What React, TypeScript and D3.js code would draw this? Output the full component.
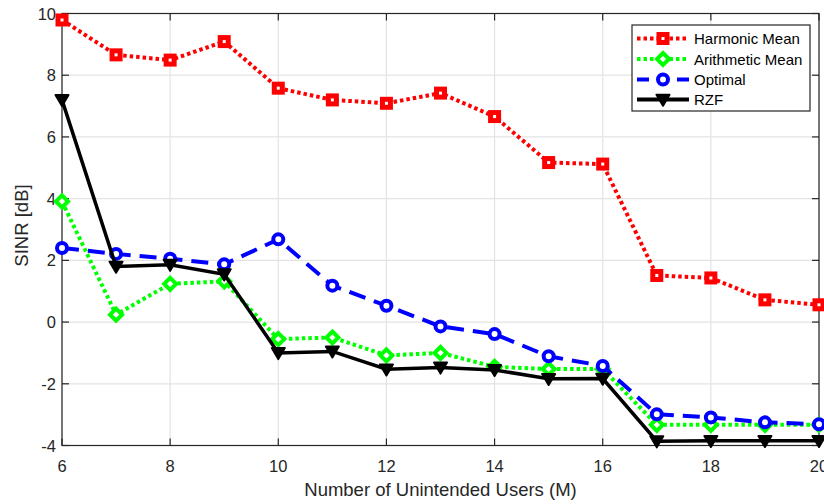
import * as d3 from 'd3'

const users = [6, 7, 8, 9, 10, 11, 12, 13, 14, 15, 16, 17, 18, 19, 20]
const harmonic = [9.79, 8.66, 8.49, 9.09, 7.58, 7.2, 7.09, 7.42, 6.66, 5.17, 5.12, 1.51, 1.43, 0.72, 0.56]
const arithmetic = [3.91, 0.24, 1.24, 1.32, -0.55, -0.5, -1.08, -1.0, -1.45, -1.52, -1.52, -3.33, -3.33, -3.33, -3.33]
const optimal = [2.4, 2.21, 2.05, 1.87, 2.68, 1.18, 0.53, -0.14, -0.39, -1.11, -1.42, -2.99, -3.09, -3.25, -3.31]
const rzf = [7.2, 1.8, 1.86, 1.55, -1.0, -0.95, -1.53, -1.47, -1.55, -1.84, -1.83, -3.86, -3.85, -3.85, -3.85]
const xTicks = [6, 8, 10, 12, 14, 16, 18, 20]
const yTicks = [-4, -2, 0, 2, 4, 6, 8, 10]

type Marker = 'square' | 'diamond' | 'circle' | 'triangle'
type Series = { name: string; values: number[]; color: string; dash: string; marker: Marker }

const series: Series[] = [
  { name: 'Harmonic Mean', values: harmonic, color: '#ff0000', dash: '3.5,3', marker: 'square' },
  { name: 'Arithmetic Mean', values: arithmetic, color: '#00ff00', dash: '3.5,3', marker: 'diamond' },
  { name: 'Optimal', values: optimal, color: '#0000ff', dash: '17,9', marker: 'circle' },
  { name: 'RZF', values: rzf, color: '#000000', dash: '', marker: 'triangle' },
]

const W = 824
const H = 504
const margin = { left: 62, top: 13.5, right: 5, bottom: 58.5 }
const font = 'Liberation Sans, Arial, Helvetica, sans-serif'

function MarkerShape({ type, x, y, color }: { type: Marker; x: number; y: number; color: string }) {
  if (type === 'square') {
    return <rect x={x - 4} y={y - 4} width={8} height={8} fill="#fff" stroke={color} strokeWidth={5} />
  }
  if (type === 'diamond') {
    const r = 6
    return <path d={`M${x},${y - r}L${x + r},${y}L${x},${y + r}L${x - r},${y}Z`} fill="#fff" stroke={color} strokeWidth={4} strokeLinejoin="miter" />
  }
  if (type === 'circle') {
    return <circle cx={x} cy={y} r={5} fill="#fff" stroke={color} strokeWidth={4} />
  }
  const s = 6.5
  return <path d={`M${x - s},${y - s * 0.75}L${x + s},${y - s * 0.75}L${x},${y + s * 0.95}Z`} fill={color} stroke={color} strokeWidth={2} strokeLinejoin="round" />
}

export default function App() {
  const innerW = W - margin.left - margin.right
  const innerH = H - margin.top - margin.bottom
  const x = d3.scaleLinear().domain([6, 20]).range([margin.left, margin.left + innerW])
  const y = d3.scaleLinear().domain([-4, 10]).range([margin.top + innerH, margin.top])
  const x0 = x(6)
  const x1 = x(20)
  const y0 = y(-4)
  const y1 = y(10)

  const line = d3.line<number>().x((_, i) => x(users[i])).y(d => y(d))

  const legend = { x: 632, y: 25, w: 178, h: 86 }
  const rowY = [38.5, 59, 79.5, 99.5]

  return (
    <div style={{ position: 'absolute', left: 0, top: 0 }}>
      <svg width={W} height={H} viewBox={`0 0 ${W} ${H}`} style={{ display: 'block', background: '#fff' }}>
        {/* grid */}
        {xTicks.map(t => (
          <line key={`gx-${t}`} x1={x(t)} x2={x(t)} y1={y0} y2={y1} stroke="#e3e3e3" strokeWidth={1.2} />
        ))}
        {yTicks.map(t => (
          <line key={`gy-${t}`} x1={x0} x2={x1} y1={y(t)} y2={y(t)} stroke="#e3e3e3" strokeWidth={1.2} />
        ))}

        {/* box + ticks */}
        <rect x={x0} y={y1} width={x1 - x0} height={y0 - y1} fill="none" stroke="#262626" strokeWidth={1.2} />
        {xTicks.map(t => (
          <g key={`tx-${t}`} stroke="#262626" strokeWidth={1.2}>
            <line x1={x(t)} x2={x(t)} y1={y0} y2={y0 - 7} />
            <line x1={x(t)} x2={x(t)} y1={y1} y2={y1 + 7} />
          </g>
        ))}
        {yTicks.map(t => (
          <g key={`ty-${t}`} stroke="#262626" strokeWidth={1.2}>
            <line x1={x0} x2={x0 + 7} y1={y(t)} y2={y(t)} />
            <line x1={x1} x2={x1 - 7} y1={y(t)} y2={y(t)} />
          </g>
        ))}

        {/* tick labels */}
        {xTicks.map(t => (
          <text key={`lx-${t}`} x={x(t)} y={y0 + 26.5} textAnchor="middle" fontFamily={font} fontSize={16.5} fill="#262626">
            {t}
          </text>
        ))}
        {yTicks.map(t => (
          <text key={`ly-${t}`} x={x0 - 6} y={y(t) + 6} textAnchor="end" fontFamily={font} fontSize={16.5} fill="#262626">
            {t}
          </text>
        ))}

        <text x={(x0 + x1) / 2} y={H - 8} textAnchor="middle" fontFamily={font} fontSize={18.5} fill="#262626">
          Number of Unintended Users (M)
        </text>
        <text transform={`translate(28, ${(y0 + y1) / 2 - 4}) rotate(-90)`} textAnchor="middle" fontFamily={font} fontSize={18.5} fill="#262626">
          SINR [dB]
        </text>

        {/* series */}
        {series.map(s => (
          <g key={s.name}>
            <path d={line(s.values) ?? ''} fill="none" stroke={s.color} strokeWidth={s.marker === 'triangle' ? 3.5 : 4} strokeDasharray={s.dash || undefined} />
            {s.values.map((v, i) => (
              <MarkerShape key={i} type={s.marker} x={x(users[i])} y={y(v)} color={s.color} />
            ))}
          </g>
        ))}

        {/* legend */}
        <rect x={legend.x} y={legend.y} width={legend.w} height={legend.h} fill="#fff" stroke="#262626" strokeWidth={1.2} />
        {series.map((s, i) => (
          <g key={`lg-${s.name}`}>
            <line x1={637} x2={689} y1={rowY[i]} y2={rowY[i]} stroke={s.color} strokeWidth={4} strokeDasharray={s.marker === 'circle' ? '12,8' : s.dash || undefined} />
            <MarkerShape type={s.marker} x={663} y={rowY[i]} color={s.color} />
            <text x={694} y={rowY[i] + 5.5} fontFamily={font} fontSize={15} fill="#000">
              {s.name}
            </text>
          </g>
        ))}
      </svg>
    </div>
  )
}
